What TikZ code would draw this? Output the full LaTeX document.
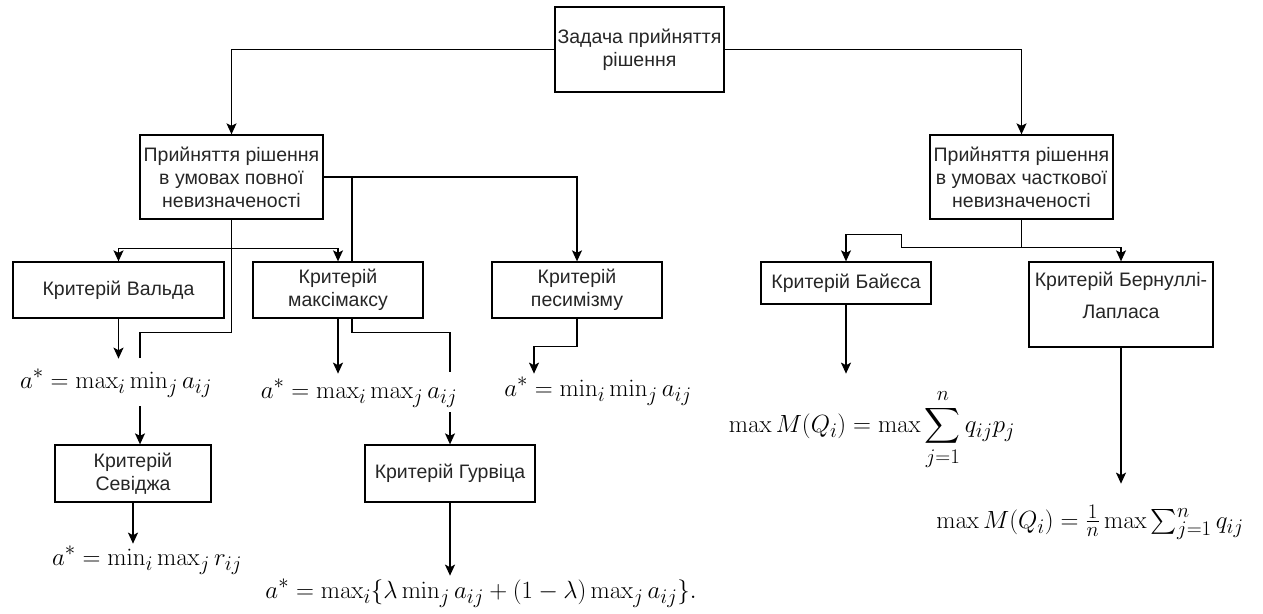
\documentclass[tikz,border=0pt]{standalone}
\usepackage{amsmath}
\usepackage[no-math]{fontspec}
\newfontfamily\critfont{Liberation Sans}
\usetikzlibrary{arrows.meta}

\begin{document}
\begin{tikzpicture}[x=1pt,y=-1pt,
    box/.style={draw, line width=1.3pt, fill=white, inner sep=0pt, align=center,
      font=\critfont\fontsize{19.5}{23}\selectfont, text=black!85},
    formula/.style={inner sep=0pt, anchor=base, font=\fontsize{28}{32}\selectfont},
    arr/.style={-{Stealth[length=11pt,width=10pt,inset=2.5pt]}, line width=1.3pt},
    link/.style={line width=1.3pt}]
    \useasboundingbox (0,0) rectangle (1263,613);

    \node[box, minimum width=169pt, minimum height=85pt] (task) at (639.5,49.5) {Задача прийняття\\рішення};
    \node[box, minimum width=183pt, minimum height=84pt] (full) at (231.5,177) {Прийняття рішення\\в умовах повної\\невизначеності};
    \node[box, minimum width=183pt, minimum height=84pt] (part) at (1021.5,177) {Прийняття рішення\\в умовах часткової\\невизначеності};
    \node[box, minimum width=211pt, minimum height=56pt] (wald) at (118.5,290) {Критерій Вальда};
    \node[box, minimum width=170pt, minimum height=56pt] (maxmax) at (338,290) {Критерій\\максімаксу};
    \node[box, minimum width=170pt, minimum height=56pt] (pes) at (577,290) {Критерій\\песимізму};
    \node[box, minimum width=156pt, minimum height=57pt] (savage) at (133,473.5) {Критерій\\Севіджа};
    \node[box, minimum width=170pt, minimum height=57pt] (hurw) at (450,473.5) {Критерій Гурвіца};
    \node[box, minimum width=170pt, minimum height=42pt] (bayes) at (846,283) {Критерій Байєса};
    \node[box, minimum width=184pt, minimum height=85pt] (bern) at (1121,304.5) {Критерій Бернуллі-\\[9pt]Лапласа\\[-4pt]};

    \node[formula] (fwald) at (116,388) {$a^* = \max_i \min_j a_{ij}$};
    \node[formula] (fmax) at (359,398) {$a^* = \max_i \max_j a_{ij}$};
    \node[formula] (fpes) at (598,396) {$a^* = \min_i \min_j a_{ij}$};
    \node[formula] (fsav) at (147,565) {$a^* = \min_i \max_j r_{ij}$};
    \node[formula] (fhur) at (481,598) {$a^* = \max_i\{\lambda \min_j a_{ij} + (1-\lambda)\max_j a_{ij}\}.$};
    \node[formula] (fbayes) at (872,432) {$\displaystyle \max M(Q_i) = \max\sum_{j=1}^{n} q_{ij}p_j$};
    \node[formula] (fbern) at (1090,528) {$\max M(Q_i) = \frac{1}{n}\max\sum_{j=1}^{n} q_{ij}$};

    \draw[arr] (task.west) -| (full.north);
    \draw[arr] (task.east) -| (part.north);

    \coordinate (fsplit) at ([yshift=-29pt]full.south);
    \draw[arr] (full.south) -- (fsplit) -| (wald.north);
    \draw[arr] (fsplit) -| (maxmax.north);
    \draw[link] (fsplit) |- ([xshift=7pt,yshift=112pt]savage.north) -- ([xshift=7pt,yshift=86pt]savage.north);
    \draw[arr] (full.east) -| (pes.north);
    \draw[link] ([xshift=14pt]maxmax.north) -- ([xshift=14pt]maxmax.north |- full.east);
    \draw[link] ([xshift=14pt]maxmax.south) |- ([yshift=112pt]hurw.north) -- ([yshift=72pt]hurw.north);

    \draw[arr] (wald.south) -- ++(0,40);
    \draw[arr] ([xshift=7pt,yshift=38pt]savage.north) -- ([xshift=7pt]savage.north);
    \draw[arr] (savage.south) -- ++(0,41);
    \draw[arr] (maxmax.south) -- ++(0,55);
    \draw[arr] ([yshift=32pt]hurw.north) -- (hurw.north);
    \draw[arr] (hurw.south) -- ++(0,73);
    \draw[arr] (pes.south) -- ++(0,28) -| ++(-43,27);

    \coordinate (psplit) at ([yshift=-28pt]part.south);
    \draw[arr] (part.south) -- (psplit) -| (bern.north);
    \draw[arr] (psplit) -- ++(-120,0) -- ++(0,-13) -| (bayes.north);
    \draw[arr] (bayes.south) -- ++(0,69);
    \draw[arr] (bern.south) -- ++(0,136);
\end{tikzpicture}
\end{document}
